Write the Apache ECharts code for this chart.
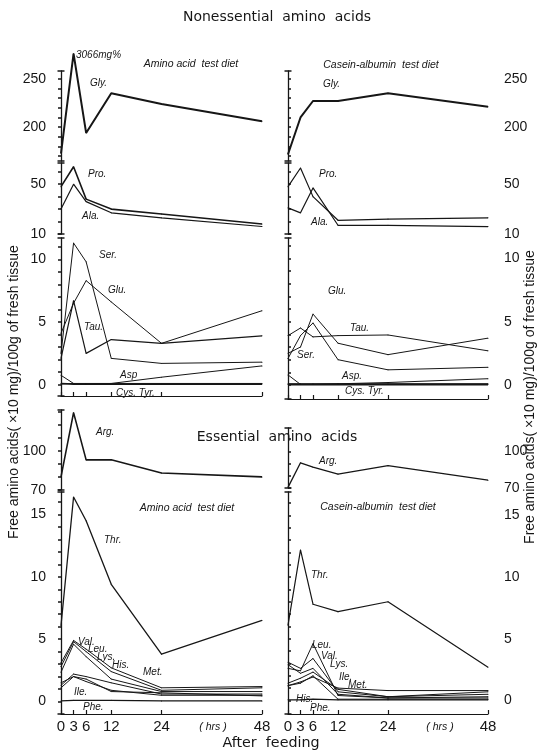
<!DOCTYPE html>
<html>
<head>
<meta charset="utf-8">
<script src="https://cdn.jsdelivr.net/npm/echarts@6/dist/echarts.min.js"></script>
<style>
html, body { margin: 0; padding: 0; background: #fff; }
#chart { width: 538px; height: 751px; }
</style>
</head>
<body>
<div id="chart"></div>
<script>
// hours after feeding
const hours = [0, 3, 6, 12, 24, 48]
const xTicks = [0, 3, 6, 12, 24, 48]

// Amino acid test diet (left column)
const aaGly = [173, 276, 194, 235, 224, 206] // 3 h is off scale (3066 mg%), drawn at the break
const aaPro = [48, 64, 38, 30, 26, 18]
const aaAla = [30, 50, 36, 27, 23, 16]
const aaSer = [2.5, 11.3, 9.8, 2.1, 1.7, 1.8]
const aaGlu = [4.1, 6.5, 8.3, 6.6, 3.3, 5.9]
const aaTau = [2.1, 6.7, 2.5, 3.6, 3.3, 3.9]
const aaAsp = [0.75, 0.1, 0.05, 0.1, 0.6, 1.5]
const aaCys = [0.1, 0.05, 0.05, 0.05, 0.05, 0.05]
const aaTyr = [0.05, 0.1, 0.1, 0.1, 0.1, 0.1]
const aaArg = [80, 129, 93, 93, 83, 80]
const aaThr = [6.1, 16.4, 14.5, 9.4, 3.8, 6.5]
const aaVal = [3.1, 4.9, 4.2, 2.7, 1.1, 1.2]
const aaLeu = [2.8, 4.8, 4.0, 2.4, 0.9, 1.1]
const aaLys = [2.35, 4.6, 3.6, 1.8, 0.8, 0.8]
const aaHis = [1.3, 2.2, 2.0, 1.5, 0.6, 0.6]
const aaMet = [1.5, 2.0, 1.8, 0.8, 0.7, 0.45]
const aaIle = [1.1, 2.0, 1.6, 0.9, 0.5, 0.5]
const aaPhe = [0.05, 0.1, 0.1, 0.1, 0.05, 0.05]

// Casein-albumin test diet (right column)
const caGly = [172, 210, 227, 227, 235, 221]
const caPro = [48, 63, 40, 21, 22, 23]
const caAla = [31, 27, 47, 17, 17, 16]
const caSer = [2.1, 3.9, 4.9, 2.0, 1.2, 1.4]
const caGlu = [2.5, 3.0, 5.6, 3.3, 2.4, 3.7]
const caTau = [3.9, 4.5, 3.8, 3.9, 3.95, 2.7]
const caAsp = [0.8, 0.05, 0.05, 0.1, 0.2, 0.5]
const caCys = [0.05, 0.05, 0.05, 0.05, 0.05, 0.05]
const caTyr = [0.1, 0.1, 0.1, 0.1, 0.1, 0.1]
const caArg = [70.5, 90.6, 87, 81.4, 88.3, 76.4]
const caThr = [6.1, 12.2, 7.8, 7.2, 8.0, 2.7]
const caLeu = [2.6, 2.4, 4.6, 0.4, 0.2, 0.2]
const caVal = [3.1, 2.6, 3.4, 0.7, 0.3, 0.7]
const caLys = [2.9, 2.2, 2.6, 0.5, 0.2, 0.3]
const caIle = [1.4, 1.8, 2.3, 0.9, 0.3, 0.5]
const caMet = [1.2, 1.5, 1.9, 1.0, 0.8, 0.8]
const caHis = [1.2, 1.4, 2.0, 0.1, 0.1, 0.1]
const caPhe = [0.05, 0.05, 0.1, 0.05, 0.05, 0.05]

// y tick labels / minor ticks per panel
const glyLabels = [200, 250]
const glyTicks = [170, 180, 190, 200, 210, 220, 230, 240, 250]
const proLabels = [10, 50]
const proTicks = [10, 20, 30, 40, 50, 60]
const serLabels = [0, 5, 10]
const serTicks = [0, 1, 2, 3, 4, 5, 6, 7, 8, 9, 10, 11]
const argLabels = [70, 100]
const argTicksL = [70, 80, 90, 100, 110, 120, 130]
const argTicksR = [70, 80, 90, 100, 110]
const thrLabels = [0, 5, 10, 15]
const thrTicks = [0, 1, 2, 3, 4, 5, 6, 7, 8, 9, 10, 11, 12, 13, 14, 15, 16]

const ink = '#161616'

// panel layout: [top, height, min, max]
const leftPanels = [
  [71, 90, 165, 258],
  [163, 71, 10, 67],
  [238, 158, -0.9, 11.7],
  [410, 80, 70, 131],
  [492, 222, -1, 16.8]
]
const rightPanels = [
  [71, 90, 165, 258],
  [163, 71, 10, 67],
  [238, 161, -1.1, 11.6],
  [428, 60, 70, 119],
  [492, 222, -1.1, 16.9]
]
const panelLabels = [glyLabels, proLabels, serLabels, argLabels, thrLabels]
const panelTicksL = [glyTicks, proTicks, serTicks, argTicksL, thrTicks]
const panelTicksR = [glyTicks, proTicks, serTicks, argTicksR, thrTicks]

const grids = []
const xAxes = []
const yAxes = []
leftPanels.forEach(p => {
  grids.push({ left: 61, width: 201, top: p[0], height: p[1] })
})
rightPanels.forEach(p => {
  grids.push({ left: 288, width: 200, top: p[0], height: p[1] })
})

function xAx(g, show, labels) {
  return {
    type: 'value', gridIndex: g, min: 0, max: 48, show: show,
    splitLine: { show: false },
    axisLine: { show: true, onZero: false, lineStyle: { color: ink, width: 1.2 } },
    axisTick: { show: true, inside: true, length: 4, customValues: xTicks, lineStyle: { color: ink, width: 1.2 } },
    axisLabel: { show: labels, customValues: xTicks, fontSize: 15, color: ink, margin: 5,
      fontFamily: 'Liberation Sans Narrow, Liberation Sans' }
  }
}
function yAx(g, side, p, labels, ticks) {
  return {
    type: 'value', gridIndex: g, position: side, offset: side === 'left' ? 11 : 13,
    min: p[2], max: p[3],
    splitLine: { show: false },
    axisLine: { show: true, lineStyle: { color: ink, width: 1.3 }, symbol: ['rect', 'rect'], symbolSize: [7, 1.5] },
    axisTick: { show: true, customValues: ticks, length: 3, lineStyle: { color: ink, width: 1.5 } },
    axisLabel: { customValues: labels, fontSize: 14, color: ink, margin: side === 'left' ? 4 : 3,
      fontFamily: 'Liberation Sans' }
  }
}
for (let i = 0; i < 5; i++) {
  xAxes.push(xAx(i, i === 2 || i === 4, i === 4))
  yAxes.push(yAx(i, 'left', leftPanels[i], panelLabels[i], panelTicksL[i]))
}
for (let i = 0; i < 5; i++) {
  xAxes.push(xAx(i + 5, i === 2 || i === 4, i === 4))
  yAxes.push(yAx(i + 5, 'right', rightPanels[i], panelLabels[i], panelTicksR[i]))
}

// labels: [dataIndex, text, x, y]  (x = left edge of the label, y = its middle)
function line(name, vals, g, width, labels) {
  labels = labels || []
  return {
    name: name, type: 'line', xAxisIndex: g, yAxisIndex: g,
    symbol: 'circle', symbolSize: 1, showSymbol: true, clip: false,
    lineStyle: { color: ink, width: width },
    itemStyle: { color: ink },
    emphasis: { disabled: true },
    label: { fontFamily: 'Liberation Sans', fontStyle: 'italic', fontSize: 10, color: ink },
    data: hours.map((h, i) => {
      const l = labels.find(l => l[0] === i)
      if (!l) return [h, vals[i]]
      return { value: [h, vals[i]], label: { show: true, formatter: l[1] } }
    }),
    labelLayout: p => {
      const l = labels.find(l => l[0] === p.dataIndex)
      return l ? { x: l[2], y: l[3], align: 'left', verticalAlign: 'middle' } : {}
    }
  }
}

const series = [
  line('Gly', aaGly, 0, 2, [[1, '3066mg%', 76, 55], [2, 'Gly.', 90, 83]]),
  line('Pro', aaPro, 1, 1.6, [[1, 'Pro.', 88, 174]]),
  line('Ala', aaAla, 1, 1.2, [[2, 'Ala.', 82, 216]]),
  line('Ser', aaSer, 2, 1, [[2, 'Ser.', 99, 255]]),
  line('Glu', aaGlu, 2, 1, [[2, 'Glu.', 108, 290]]),
  line('Tau', aaTau, 2, 1.2, [[2, 'Tau.', 84, 327]]),
  line('Asp', aaAsp, 2, 1, [[3, 'Asp', 120, 375]]),
  line('Cys', aaCys, 2, 1.6, [[3, 'Cys. Tyr.', 116, 393]]),
  line('Tyr', aaTyr, 2, 1),
  line('Arg', aaArg, 3, 1.6, [[2, 'Arg.', 96, 432]]),
  line('Thr', aaThr, 4, 1.3, [[2, 'Thr.', 104, 540]]),
  line('Val', aaVal, 4, 1, [[1, 'Val.', 78, 642]]),
  line('Leu', aaLeu, 4, 1, [[1, 'Leu.', 88, 649]]),
  line('Lys', aaLys, 4, 1, [[2, 'Lys.', 97, 657]]),
  line('His', aaHis, 4, 1, [[2, 'His.', 112, 665]]),
  line('Met', aaMet, 4, 1, [[3, 'Met.', 143, 672]]),
  line('Ile', aaIle, 4, 1, [[1, 'Ile.', 74, 692]]),
  line('Phe', aaPhe, 4, 1.3, [[1, 'Phe.', 83, 707]]),

  line('Gly', caGly, 5, 2, [[2, 'Gly.', 323, 84]]),
  line('Pro', caPro, 6, 1.2, [[1, 'Pro.', 319, 174]]),
  line('Ala', caAla, 6, 1.2, [[1, 'Ala.', 311, 222]]),
  line('Glu', caGlu, 7, 1, [[2, 'Glu.', 328, 291]]),
  line('Tau', caTau, 7, 1, [[3, 'Tau.', 350, 328]]),
  line('Ser', caSer, 7, 1, [[3, 'Ser.', 297, 355]]),
  line('Asp', caAsp, 7, 1, [[3, 'Asp.', 342, 376]]),
  line('Cys', caCys, 7, 2, [[3, 'Cys. Tyr.', 345, 391]]),
  line('Tyr', caTyr, 7, 1.2),
  line('Arg', caArg, 8, 1.3, [[1, 'Arg.', 319, 461]]),
  line('Thr', caThr, 9, 1.2, [[1, 'Thr.', 311, 575]]),
  line('Leu', caLeu, 9, 1, [[2, 'Leu.', 312, 645]]),
  line('Val', caVal, 9, 1, [[2, 'Val.', 321, 656]]),
  line('Lys', caLys, 9, 1, [[2, 'Lys.', 330, 664]]),
  line('Ile', caIle, 9, 1, [[3, 'Ile.', 339, 677]]),
  line('Met', caMet, 9, 1, [[3, 'Met.', 348, 685]]),
  line('His', caHis, 9, 1, [[3, 'His.', 296, 699]]),
  line('Phe', caPhe, 9, 1.3, [[3, 'Phe.', 310, 708]])
]

function txt(text, x, y, size) {
  return {
    type: 'text', x: x, y: y,
    style: { text: text, fill: ink, fontSize: size, fontFamily: 'DejaVu Sans',
      textAlign: 'center', textVerticalAlign: 'middle' }
  }
}
function itxt(text, x, y) {
  return { type: 'text', x: x, y: y,
    style: { text: text, fill: ink, fontSize: 10.5, fontStyle: 'italic', fontFamily: 'Liberation Sans',
      textAlign: 'center', textVerticalAlign: 'middle' } }
}
const yName = 'Free amino acids( ×10 mg)/100g of fresh tissue'

const chart = echarts.init(document.getElementById('chart'))
chart.setOption({
  animation: false,
  backgroundColor: '#fff',
  grid: grids,
  xAxis: xAxes,
  yAxis: yAxes,
  series: series,
  graphic: [
    txt('Nonessential  amino  acids', 277, 17, 14),
    txt('Essential  amino  acids', 277, 437, 14),
    itxt('Amino acid  test diet', 191, 64),
    itxt('Casein-albumin  test diet', 381, 65),
    itxt('Amino acid  test diet', 187, 508),
    itxt('Casein-albumin  test diet', 378, 507),
    itxt('( hrs )', 213, 727),
    itxt('( hrs )', 440, 727),
    txt('After  feeding', 271, 743, 14.3),
    { type: 'text', x: 14, y: 392, rotation: Math.PI / 2,
      style: { text: yName, fill: ink, fontSize: 14, fontFamily: 'Liberation Sans', textAlign: 'center', textVerticalAlign: 'middle' } },
    { type: 'text', x: 530, y: 397, rotation: Math.PI / 2,
      style: { text: yName, fill: ink, fontSize: 14, fontFamily: 'Liberation Sans', textAlign: 'center', textVerticalAlign: 'middle' } }
  ]
})
</script>
</body>
</html>
